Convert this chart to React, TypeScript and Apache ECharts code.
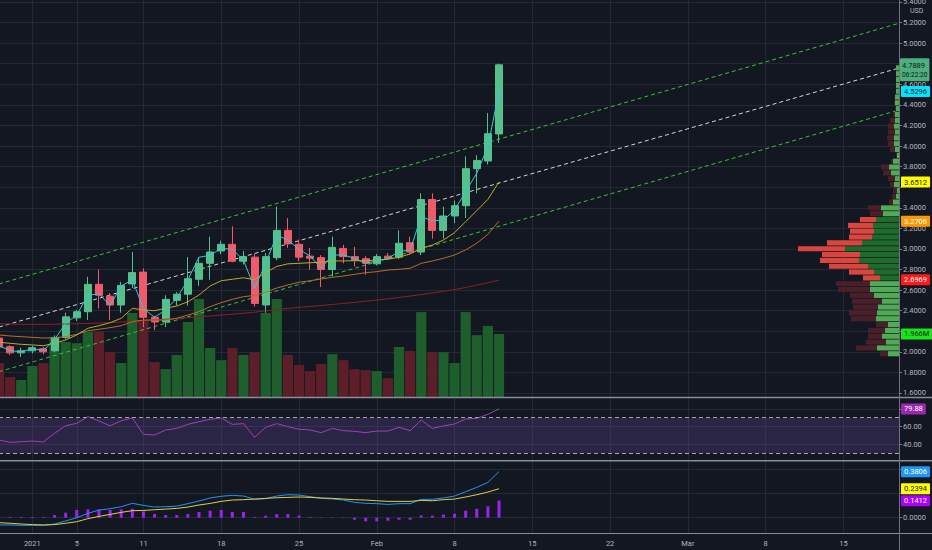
import React, { useEffect, useRef } from 'react';
import * as echarts from 'echarts';

const BG = '#131722';
const GRID_COLOR = '#252934';
const AXIS_TEXT = '#b2b5be';
const SEP = '#8a8d96';
const FONT = 'Roboto, "Noto Sans", "DejaVu Sans", sans-serif';

// ---- time axis ----
const START_DATE = '2020-12-29';
const DAY_COUNT = 82;
const TICK_DATES = ['2021-01-01', '2021-01-05', '2021-01-11', '2021-01-18', '2021-01-25', '2021-02-01', '2021-02-08', '2021-02-15', '2021-02-22', '2021-03-01', '2021-03-08', '2021-03-15'];
const MONTHS = ['Jan', 'Feb', 'Mar', 'Apr', 'May', 'Jun', 'Jul', 'Aug', 'Sep', 'Oct', 'Nov', 'Dec'];

// ---- price axis ----
const PRICE_MIN = 1.561;
const PRICE_MAX = 5.419;
const PRICE_TICKS = [1.6, 1.8, 2.0, 2.2, 2.4, 2.6, 2.8, 3.0, 3.2, 3.4, 3.6, 3.8, 4.0, 4.2, 4.4, 4.6, 4.8, 5.0, 5.2, 5.4];
const PRICE_LABELS = [1.6, 1.8, 2.0, 2.4, 2.6, 2.8, 3.0, 3.2, 3.4, 3.8, 4.0, 4.2, 4.4, 4.6, 5.0, 5.2, 5.4];

// ---- daily candles (Dec 29 .. Feb 12) ----
const OPEN = [2.134, 2.05, 1.99, 2.01, 2.03, 2.01, 2.14, 2.33, 2.39, 2.656, 2.54, 2.455, 2.66, 2.775, 2.335, 2.29, 2.50, 2.56, 2.705, 2.86, 2.98, 3.045, 2.88, 2.92, 2.455, 2.915, 3.18, 3.045, 2.93, 2.915, 2.80, 3.005, 2.925, 2.905, 2.855, 2.93, 2.92, 3.06, 2.97, 3.48, 3.18, 3.32, 3.42, 3.78, 3.855, 4.117];
const CLOSE = [2.047, 1.99, 2.01, 2.04, 2.00, 2.14, 2.34, 2.39, 2.656, 2.55, 2.455, 2.645, 2.77, 2.335, 2.29, 2.51, 2.56, 2.71, 2.86, 2.97, 3.045, 2.88, 2.925, 2.47, 2.925, 3.18, 3.05, 2.92, 2.91, 2.80, 3.015, 2.925, 2.89, 2.86, 2.925, 2.91, 3.055, 2.97, 3.48, 3.18, 3.32, 3.42, 3.78, 3.86, 4.12, 4.7889];
const LOW = [2.03, 1.97, 1.95, 1.985, 1.975, 1.995, 2.12, 2.30, 2.31, 2.42, 2.31, 2.38, 2.62, 2.24, 2.21, 2.24, 2.45, 2.45, 2.64, 2.70, 2.95, 2.87, 2.85, 2.44, 2.38, 2.89, 3.01, 2.88, 2.80, 2.63, 2.73, 2.86, 2.83, 2.75, 2.84, 2.90, 2.90, 2.95, 2.94, 3.10, 3.10, 3.25, 3.30, 3.54, 3.82, 4.03];
const HIGH = [2.16, 2.065, 2.04, 2.06, 2.05, 2.16, 2.38, 2.41, 2.73, 2.80, 2.57, 2.68, 2.97, 2.81, 2.35, 2.55, 2.58, 2.92, 2.92, 3.12, 3.08, 3.22, 2.98, 2.95, 2.96, 3.41, 3.30, 3.09, 3.01, 2.94, 3.12, 3.04, 3.02, 2.93, 2.95, 2.96, 3.18, 3.12, 3.54, 3.54, 3.41, 3.47, 3.90, 3.91, 4.32, 4.80];
const VOLUME = [1.06, 0.62, 0.53, 0.97, 1.06, 1.87, 1.72, 1.68, 2.03, 2.03, 1.40, 1.06, 2.62, 2.40, 1.09, 0.87, 1.31, 2.34, 3.06, 1.53, 1.15, 1.53, 1.31, 1.40, 2.62, 3.06, 1.31, 1.00, 0.81, 1.03, 1.34, 1.15, 0.87, 0.84, 0.81, 0.59, 1.56, 1.44, 2.65, 1.40, 1.40, 1.06, 2.65, 1.93, 2.22, 1.966];
const VOL_AXIS_MAX = 12.39;

// ---- moving averages ----
const MA_FAST = [2.06, 2.011, 2.001, 2.028, 2.015, 2.12, 2.277, 2.358, 2.552, 2.562, 2.45, 2.64, 2.70, 2.42, 2.336, 2.407, 2.52, 2.70, 2.919, 2.938, 3.006, 2.996, 2.893, 2.617, 2.86, 3.135, 3.087, 2.996, 2.931, 2.81, 2.941, 2.94, 2.909, 2.86, 2.883, 2.909, 2.973, 2.99, 3.313, 3.274, 3.28, 3.378, 3.556, 3.735, 3.994, 4.5296];
const MA_MID = [2.093, 2.083, 2.073, 2.067, 2.06, 2.083, 2.115, 2.164, 2.229, 2.254, 2.283, 2.326, 2.423, 2.407, 2.40, 2.423, 2.445, 2.487, 2.552, 2.64, 2.691, 2.705, 2.72, 2.70, 2.77, 2.83, 2.855, 2.86, 2.866, 2.87, 2.883, 2.883, 2.886, 2.883, 2.893, 2.899, 2.919, 2.951, 3.006, 3.038, 3.087, 3.158, 3.265, 3.372, 3.482, 3.6512];
const MA_SLOW = [2.164, 2.154, 2.147, 2.141, 2.134, 2.137, 2.147, 2.17, 2.205, 2.219, 2.235, 2.254, 2.293, 2.309, 2.309, 2.309, 2.326, 2.358, 2.39, 2.439, 2.478, 2.51, 2.536, 2.548, 2.58, 2.62, 2.65, 2.676, 2.691, 2.708, 2.724, 2.737, 2.753, 2.769, 2.779, 2.795, 2.802, 2.812, 2.86, 2.883, 2.909, 2.941, 2.99, 3.055, 3.142, 3.2706];
const MA_LONG = [2.272, 2.270, 2.268, 2.267, 2.267, 2.268, 2.270, 2.273, 2.276, 2.279, 2.283, 2.290, 2.298, 2.305, 2.310, 2.316, 2.323, 2.332, 2.340, 2.348, 2.357, 2.366, 2.375, 2.385, 2.398, 2.410, 2.422, 2.432, 2.441, 2.450, 2.460, 2.470, 2.481, 2.492, 2.503, 2.515, 2.528, 2.542, 2.557, 2.572, 2.588, 2.605, 2.625, 2.648, 2.672, 2.6969];

// ---- regression channel (category index -> price) ----
const CHANNEL_X = [0, 81];
const CHANNEL_UPPER = [2.659, 5.193];
const CHANNEL_MID = [2.241, 4.758];
const CHANNEL_LOWER = [1.807, 4.35];

// ---- visible range volume profile ----
const PROFILE_LOW = 1.953;
const PROFILE_STEP = 0.0567;
const PROFILE_UP = [2.2, 4.4, 2.6, 3.4, 2.8, 2.2, 4.6, 4.4, 4.2, 3.4, 5.0, 5.8, 5.8, 3.8, 5.0, 6.2, 8.0, 7.8, 10.8, 7.4, 5.4, 5.0, 5.2, 4.6, 3.2, 3.6, 1.2, 0.6, 0.4, 1.0, 0.8, 1.6, 2.0, 1.2, 0.4, 0.8, 1.0, 1.0, 0.8, 1.0, 0.8, 0.8, 0.6, 0.8, 0.8, 0.6, 0.6, 0.6, 0.6, 0.6];
const PROFILE_DOWN = [1.6, 4.2, 4.0, 2.8, 3.4, 2.4, 5.0, 5.6, 5.0, 6.0, 4.8, 6.4, 6.8, 3.4, 5.0, 7.8, 7.8, 7.6, 9.4, 7.0, 4.6, 4.8, 5.0, 3.2, 2.6, 2.6, 0.8, 0.8, 0.8, 0.8, 1.4, 1.6, 1.6, 0.4, 0.2, 1.0, 1.2, 1.4, 1.4, 1.2, 1.0, 0.4, 0.2, 0.2, 0, 0, 0, 0, 0, 0];
const PROFILE_VA_FIRST = 13;
const PROFILE_VA_LAST = 23;
const PROFILE_AXIS_MAX = 180;

// ---- RSI ----
const RSI = [45, 42.3, 43, 43.8, 42.7, 52.5, 61, 63.7, 71.2, 66.3, 61, 66.6, 69.7, 51.3, 50.5, 56.2, 58, 62.5, 65.5, 68.2, 69.7, 62.5, 63.3, 48, 59.2, 63.3, 59.9, 57, 56.2, 53.2, 58, 55.4, 54.7, 53.2, 55, 55, 59.2, 55.4, 67.4, 58, 60.7, 62.9, 68.5, 69.3, 73.8, 79.88];
const RSI_MIN = 22.47;
const RSI_MAX = 92.13;
const RSI_TICKS = [40, 60, 80];
const RSI_LABELS = [40, 60];
const RSI_BANDS = [70, 30];

// ---- MACD ----
const MACD = [-0.06, -0.06, -0.063, -0.063, -0.063, -0.052, -0.027, 0.0, 0.036, 0.063, 0.074, 0.091, 0.119, 0.102, 0.088, 0.091, 0.096, 0.116, 0.138, 0.163, 0.177, 0.185, 0.179, 0.152, 0.157, 0.179, 0.19, 0.187, 0.174, 0.16, 0.155, 0.146, 0.127, 0.119, 0.116, 0.11, 0.116, 0.116, 0.152, 0.152, 0.163, 0.179, 0.215, 0.251, 0.292, 0.3806];
const SIGNAL = [-0.041, -0.046, -0.052, -0.057, -0.06, -0.057, -0.046, -0.033, -0.008, 0.011, 0.027, 0.044, 0.058, 0.06, 0.066, 0.071, 0.077, 0.088, 0.105, 0.118, 0.135, 0.146, 0.149, 0.154, 0.16, 0.165, 0.168, 0.171, 0.168, 0.163, 0.16, 0.154, 0.149, 0.146, 0.14, 0.135, 0.135, 0.135, 0.143, 0.14, 0.149, 0.154, 0.171, 0.19, 0.212, 0.2394];
const HIST = [null, 0.006, 0.006, 0.006, 0.006, 0.022, 0.041, 0.064, 0.069, 0.069, 0.064, 0.069, 0.074, 0.053, 0.031, 0.022, 0.022, 0.031, 0.047, 0.058, 0.064, 0.047, 0.047, 0.006, 0.017, 0.030, 0.030, 0.017, 0.006, 0.003, 0.003, -0.003, -0.017, -0.030, -0.030, -0.025, -0.017, -0.017, 0.019, 0.017, 0.025, 0.033, 0.058, 0.074, 0.094, 0.1412];
const MACD_MIN = -0.1264;
const MACD_MAX = 0.4603;
const MACD_TICKS = [0, 0.2, 0.4];
const MACD_LABELS = [0];

const COUNTDOWN = '06:22:20';

function buildCategories(): string[] {
  const out: string[] = [];
  const [y, m, d] = START_DATE.split('-').map(Number);
  const t0 = Date.UTC(y, m - 1, d);
  for (let i = 0; i < DAY_COUNT; i++) out.push(new Date(t0 + i * 86400000).toISOString().slice(0, 10));
  return out;
}

const fmtDate = (v: string) => {
  const [y, m, d] = v.split('-').map(Number);
  if (d === 1) return m === 1 ? String(y) : MONTHS[m - 1];
  return String(d);
};

const tag = (text: string, bg: string, fg: string, extra: any = {}) => ({
  show: true,
  position: 'end',
  distance: 2,
  formatter: text,
  backgroundColor: bg,
  color: fg,
  opacity: 1,
  fontSize: 7.5,
  fontFamily: FONT,
  padding: [2, 3, 1, 3],
  borderRadius: 1,
  ...extra,
});

const HIDDEN_LINE = { color: 'rgba(0,0,0,0)', width: 0, opacity: 1 };

const tagLine = (value: number, label: any) => ({
  silent: true,
  symbol: ['none', 'none'],
  lineStyle: HIDDEN_LINE,
  label,
  data: [{ yAxis: value, lineStyle: HIDDEN_LINE, label }],
});

function buildOption(): any {
  const cats = buildCategories();
  const isTick = (_i: number, v: string) => TICK_DATES.indexOf(v) >= 0;
  const last = CLOSE.length - 1;

  const catAxis = (gridIndex: number, showLabels: boolean) => ({
    type: 'category',
    gridIndex,
    data: cats,
    boundaryGap: false,
    axisLine: { show: false },
    axisTick: { show: false },
    axisLabel: { show: showLabels, interval: isTick, formatter: fmtDate, color: AXIS_TEXT, fontSize: 7.5, margin: 6, fontFamily: FONT },
    splitLine: { show: true, interval: isTick, lineStyle: { color: GRID_COLOR, width: 1 } },
  });

  const rightAxis = (gridIndex: number, min: number, max: number, ticks: number[], labels: number[], digits: number) => ({
    type: 'value',
    gridIndex,
    position: 'right',
    min,
    max,
    axisLine: { show: false },
    axisTick: { show: true, customValues: ticks, length: 3, lineStyle: { color: '#787b86' } },
    axisLabel: { show: true, customValues: labels, formatter: (v: number) => v.toFixed(digits), color: AXIS_TEXT, fontSize: 7.5, margin: 4, fontFamily: FONT },
    splitLine: { show: true, lineStyle: { color: GRID_COLOR, width: 1 } },
  });

  const profileData = PROFILE_UP.map((u, k) => [
    PROFILE_LOW + k * PROFILE_STEP,
    PROFILE_LOW + (k + 1) * PROFILE_STEP,
    u,
    PROFILE_DOWN[k],
    k >= PROFILE_VA_FIRST && k <= PROFILE_VA_LAST ? 1 : 0,
  ]);

  const chanLine = (vals: number[], color: string) => ({
    type: 'line',
    xAxisIndex: 0,
    yAxisIndex: 0,
    data: CHANNEL_X.map((x, j) => [x, vals[j]]),
    showSymbol: false,
    symbol: 'none',
    silent: true,
    lineStyle: { color, width: 1, type: [4, 3] },
    z: 2,
  });

  const maLine = (vals: number[], color: string, label: any) => ({
    type: 'line',
    xAxisIndex: 0,
    yAxisIndex: 0,
    data: vals,
    showSymbol: false,
    symbol: 'none',
    silent: true,
    lineStyle: { color, width: 1 },
    z: 5,
    markLine: tagLine(vals[vals.length - 1], label),
  });

  return {
    animation: false,
    backgroundColor: BG,
    textStyle: { fontFamily: FONT },
    grid: [
      { left: -1, top: 0, width: 900, height: 397, outerBoundsMode: 'none', containLabel: false },
      { left: -1, top: 398, width: 900, height: 62, outerBoundsMode: 'none', containLabel: false },
      { left: -1, top: 462, width: 900, height: 71, outerBoundsMode: 'none', containLabel: false },
      { left: -1, top: 0, width: 900, height: 397, outerBoundsMode: 'none', containLabel: false },
    ],
    xAxis: [
      catAxis(0, false),
      catAxis(1, false),
      catAxis(2, true),
      { type: 'value', gridIndex: 3, inverse: true, min: 0, max: PROFILE_AXIS_MAX, show: false },
    ],
    yAxis: [
      rightAxis(0, PRICE_MIN, PRICE_MAX, PRICE_TICKS, PRICE_LABELS, 4),
      { type: 'value', gridIndex: 0, min: 0, max: VOL_AXIS_MAX, show: false },
      rightAxis(1, RSI_MIN, RSI_MAX, RSI_TICKS, RSI_LABELS, 2),
      rightAxis(2, MACD_MIN, MACD_MAX, MACD_TICKS, MACD_LABELS, 4),
      { type: 'value', gridIndex: 3, min: PRICE_MIN, max: PRICE_MAX, show: false },
    ],
    graphic: [
      { type: 'line', z: 100, shape: { x1: 0, y1: 397.5, x2: 932, y2: 397.5 }, style: { stroke: SEP, lineWidth: 1.5 } },
      { type: 'line', z: 100, shape: { x1: 0, y1: 460.8, x2: 932, y2: 460.8 }, style: { stroke: SEP, lineWidth: 1.5 } },
      { type: 'line', z: 100, shape: { x1: 0, y1: 533.5, x2: 932, y2: 533.5 }, style: { stroke: SEP, lineWidth: 1 } },
      { type: 'line', z: 100, shape: { x1: 899.5, y1: 0, x2: 899.5, y2: 550 }, style: { stroke: '#6f727c', lineWidth: 1 } },
      { type: 'text', z: 100, x: 910, y: 7, style: { text: 'USD', fill: AXIS_TEXT, fontSize: 7, fontFamily: FONT } },
    ],
    series: [
      {
        type: 'bar',
        name: 'Volume',
        xAxisIndex: 0,
        yAxisIndex: 1,
        barWidth: 10.2,
        silent: true,
        z: 1,
        data: VOLUME.map((v, i) => ({ value: v, itemStyle: { color: CLOSE[i] >= OPEN[i] ? '#1e5d2c' : '#5c1e28' } })),
        markLine: tagLine(VOLUME[last], tag(VOLUME[last].toFixed(3) + 'M', '#19e619', '#131722')),
      },
      chanLine(CHANNEL_UPPER, '#3cbf3c'),
      chanLine(CHANNEL_MID, '#d1d4dc'),
      chanLine(CHANNEL_LOWER, '#3cbf3c'),
      {
        type: 'custom',
        name: 'Profile',
        xAxisIndex: 3,
        yAxisIndex: 4,
        silent: true,
        z: 3,
        encode: { x: [2, 3], y: [0, 1] },
        data: profileData,
        renderItem: (_params: any, api: any) => {
          const lo = api.value(0);
          const hi = api.value(1);
          const up = api.value(2);
          const dn = api.value(3);
          const va = api.value(4);
          const a = api.coord([0, hi]);
          const b = api.coord([up, lo]);
          const c = api.coord([up + dn, lo]);
          const top = a[1] + 0.35;
          const h = Math.max(b[1] - a[1] - 0.7, 0.5);
          return {
            type: 'group',
            children: [
              { type: 'rect', shape: { x: b[0], y: top, width: a[0] - b[0], height: h }, style: { fill: va ? '#1f6b2b' : '#52a957' } },
              { type: 'rect', shape: { x: c[0], y: top, width: b[0] - c[0], height: h }, style: { fill: va ? '#d9463f' : '#4a1f2a' } },
            ],
          };
        },
      },
      {
        type: 'candlestick',
        name: 'Price',
        xAxisIndex: 0,
        yAxisIndex: 0,
        barWidth: 7.6,
        silent: true,
        z: 4,
        data: OPEN.map((o, i) => [o, CLOSE[i], LOW[i], HIGH[i]]),
        itemStyle: { color: '#56c08d', color0: '#ef5b6a', borderColor: '#56c08d', borderColor0: '#ef5b6a', borderWidth: 1 },
        markLine: tagLine(
          CLOSE[last],
          tag(`{a|${CLOSE[last].toFixed(4)}}\n{b|${COUNTDOWN}}`, '#4caf7d', '#131722', {
            offset: [0, 5],
            distance: 1,
            padding: [2, 2, 1, 2],
            rich: {
              a: { fontSize: 7.5, lineHeight: 10, color: '#131722', fontFamily: FONT },
              b: { fontSize: 6.6, lineHeight: 10, color: '#131722', fontFamily: FONT },
            },
          })
        ),
      },
      maLine(MA_LONG, '#8e1f27', tag(MA_LONG[last].toFixed(4), '#ff1a1a', '#ffffff')),
      maLine(MA_SLOW, '#b5702b', tag(MA_SLOW[last].toFixed(4), '#ff9800', '#ffffff')),
      maLine(MA_MID, '#b9ab2e', tag(MA_MID[last].toFixed(4), '#ffff00', '#131722')),
      maLine(MA_FAST, '#30c9d4', tag(MA_FAST[last].toFixed(4), '#00e5ff', '#131722')),
      {
        type: 'line',
        name: 'RSI',
        xAxisIndex: 1,
        yAxisIndex: 2,
        data: RSI,
        showSymbol: false,
        symbol: 'none',
        silent: true,
        lineStyle: { color: '#a040b8', width: 1 },
        z: 4,
        markArea: {
          silent: true,
          itemStyle: { color: 'rgba(126, 87, 194, 0.22)' },
          data: [[{ yAxis: RSI_BANDS[0] }, { yAxis: RSI_BANDS[1] }]],
        },
        markLine: {
          silent: true,
          symbol: ['none', 'none'],
          data: [
            { yAxis: RSI_BANDS[0], lineStyle: { color: '#a3a6af', width: 1, type: [4, 3] }, label: { show: false } },
            { yAxis: RSI_BANDS[1], lineStyle: { color: '#a3a6af', width: 1, type: [4, 3] }, label: { show: false } },
            { yAxis: RSI[last], lineStyle: HIDDEN_LINE, label: tag(RSI[last].toFixed(2), '#9c27b0', '#ffffff') },
          ],
        },
      },
      {
        type: 'bar',
        name: 'Histogram',
        xAxisIndex: 2,
        yAxisIndex: 3,
        data: HIST,
        barWidth: 3,
        silent: true,
        itemStyle: { color: '#a020f0' },
        z: 2,
        markLine: tagLine(HIST[last] as number, tag((HIST[last] as number).toFixed(4), '#aa00ff', '#ffffff')),
      },
      {
        type: 'line',
        name: 'MACD',
        xAxisIndex: 2,
        yAxisIndex: 3,
        data: MACD,
        showSymbol: false,
        symbol: 'none',
        silent: true,
        lineStyle: { color: '#2196f3', width: 1 },
        z: 4,
        markLine: tagLine(MACD[last], tag(MACD[last].toFixed(4), '#2196f3', '#ffffff')),
      },
      {
        type: 'line',
        name: 'Signal',
        xAxisIndex: 2,
        yAxisIndex: 3,
        data: SIGNAL,
        showSymbol: false,
        symbol: 'none',
        silent: true,
        lineStyle: { color: '#e0cf45', width: 1 },
        z: 4,
        markLine: tagLine(SIGNAL[last], tag(SIGNAL[last].toFixed(4), '#ffff00', '#131722')),
      },
    ],
  };
}

export default function App() {
  const ref = useRef<HTMLDivElement>(null);
  useEffect(() => {
    document.body.style.margin = '0';
    document.body.style.background = BG;
    const chart = echarts.init(ref.current as HTMLDivElement, null, { renderer: 'svg' });
    chart.setOption(buildOption());
    return () => chart.dispose();
  }, []);
  return <div ref={ref} style={{ width: 932, height: 550 }} />;
}
